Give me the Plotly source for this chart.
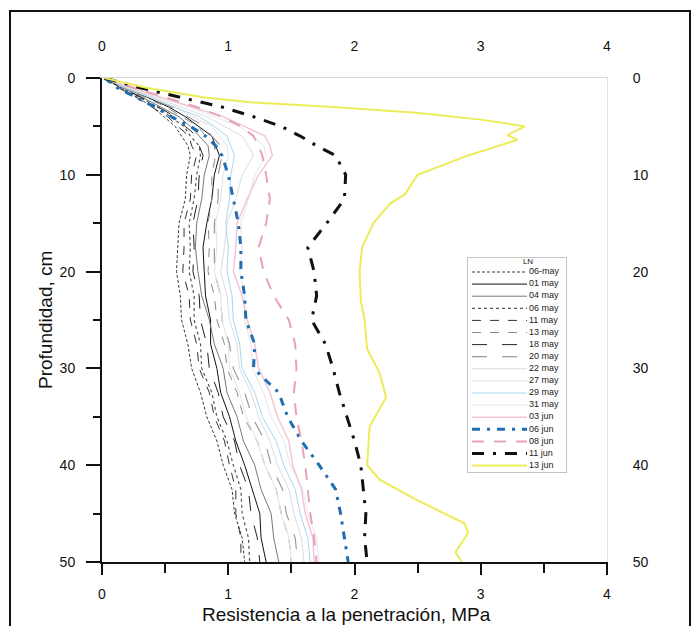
import plotly.graph_objects as go

# ---------------- data ----------------
depth = [0, 1, 2, 3, 4, 5, 6, 7, 8, 10, 12.5, 15, 17.5, 20, 22.5, 25, 27.5, 30,
         32.5, 35, 37.5, 40, 42.5, 45, 47.5, 50]
depth_13jun = [0, 1, 2, 2.5, 3, 3.6, 4.3, 5, 5.9, 6.4, 8, 10, 12, 13, 15, 17.5, 20,
               23, 25, 28, 30.5, 33, 36, 40, 41.5, 43.5, 46, 47, 49, 50]

names = ["06-may", "01 may", "04 may", "06 may", "11 may", "13 may", "18 may", "20 may",
         "22 may", "27 may", "29 may", "31 may", "03 jun", "06 jun", "08 jun", "11 jun", "13 jun"]

may06a = [0.02, 0.14, 0.28, 0.40, 0.49, 0.58, 0.63, 0.68, 0.70, 0.67, 0.66, 0.61, 0.60, 0.59,
          0.62, 0.63, 0.68, 0.71, 0.78, 0.83, 0.91, 0.96, 1.03, 1.05, 1.11, 1.13]
may01 = [0.02, 0.18, 0.36, 0.53, 0.66, 0.77, 0.87, 0.90, 0.93, 0.89, 0.87, 0.83, 0.80, 0.81,
         0.82, 0.86, 0.86, 0.91, 0.94, 1.01, 1.06, 1.13, 1.19, 1.25, 1.26, 1.30]
may04 = [0.02, 0.16, 0.32, 0.46, 0.61, 0.70, 0.77, 0.84, 0.85, 0.81, 0.79, 0.75, 0.74, 0.76,
         0.79, 0.85, 0.89, 0.96, 0.99, 1.07, 1.12, 1.21, 1.26, 1.34, 1.36, 1.40]
may06b = [0.02, 0.15, 0.30, 0.44, 0.54, 0.65, 0.70, 0.77, 0.78, 0.75, 0.73, 0.69, 0.70, 0.69,
          0.73, 0.73, 0.78, 0.79, 0.87, 0.91, 0.99, 1.04, 1.10, 1.11, 1.16, 1.17]
may11 = [0.02, 0.13, 0.27, 0.39, 0.52, 0.60, 0.69, 0.71, 0.75, 0.71, 0.70, 0.65, 0.65, 0.64,
         0.69, 0.70, 0.75, 0.77, 0.85, 0.89, 0.97, 1.01, 1.06, 1.06, 1.10, 1.10]
may13 = [0.02, 0.17, 0.34, 0.51, 0.63, 0.76, 0.82, 0.89, 0.90, 0.87, 0.87, 0.84, 0.85, 0.84,
         0.89, 0.91, 0.97, 0.99, 1.07, 1.12, 1.23, 1.29, 1.38, 1.42, 1.48, 1.50]
may18 = [0.02, 0.15, 0.31, 0.44, 0.58, 0.66, 0.75, 0.77, 0.80, 0.77, 0.76, 0.72, 0.73, 0.72,
         0.77, 0.78, 0.83, 0.85, 0.92, 0.96, 1.05, 1.09, 1.16, 1.18, 1.23, 1.25]
may20 = [0.02, 0.19, 0.37, 0.55, 0.68, 0.81, 0.87, 0.94, 0.95, 0.92, 0.92, 0.89, 0.89, 0.89,
         0.94, 0.95, 1.01, 1.04, 1.13, 1.19, 1.29, 1.34, 1.43, 1.46, 1.53, 1.55]
may22 = [0.02, 0.20, 0.42, 0.62, 0.83, 0.97, 1.11, 1.16, 1.20, 1.11, 1.06, 0.99, 0.97, 0.94,
         0.99, 1.01, 1.07, 1.09, 1.18, 1.24, 1.33, 1.39, 1.48, 1.52, 1.58, 1.60]
may27 = [0.02, 0.18, 0.38, 0.58, 0.72, 0.87, 0.93, 0.99, 1.00, 0.96, 0.94, 0.90, 0.91, 0.89,
         0.94, 0.95, 1.00, 1.01, 1.09, 1.14, 1.23, 1.29, 1.38, 1.42, 1.48, 1.50]
may29 = [0.02, 0.19, 0.39, 0.57, 0.77, 0.89, 0.99, 1.02, 1.05, 1.02, 1.01, 0.98, 1.00, 0.99,
         1.03, 1.04, 1.09, 1.11, 1.21, 1.27, 1.38, 1.44, 1.53, 1.57, 1.63, 1.65]
may31 = [0.02, 0.22, 0.45, 0.69, 0.89, 1.09, 1.19, 1.28, 1.30, 1.21, 1.16, 1.10, 1.11, 1.09,
         1.13, 1.13, 1.18, 1.19, 1.28, 1.34, 1.44, 1.49, 1.59, 1.63, 1.70, 1.72]
jun03 = [0.02, 0.23, 0.47, 0.71, 0.96, 1.13, 1.29, 1.33, 1.35, 1.24, 1.15, 1.07, 1.06, 1.04,
         1.11, 1.15, 1.21, 1.24, 1.33, 1.39, 1.48, 1.51, 1.58, 1.61, 1.67, 1.68]
jun06 = [0.02, 0.12, 0.27, 0.42, 0.55, 0.70, 0.82, 0.90, 0.95, 1.00, 1.04, 1.08, 1.10, 1.10,
         1.13, 1.14, 1.21, 1.20, 1.40, 1.47, 1.58, 1.72, 1.85, 1.89, 1.92, 1.95]
jun08 = [0.02, 0.25, 0.50, 0.75, 0.95, 1.10, 1.20, 1.24, 1.27, 1.30, 1.33, 1.30, 1.24, 1.28,
         1.36, 1.48, 1.53, 1.54, 1.52, 1.54, 1.58, 1.61, 1.63, 1.65, 1.68, 1.70]
jun11 = [0.02, 0.30, 0.62, 0.95, 1.20, 1.42, 1.57, 1.70, 1.85, 1.93, 1.92, 1.78, 1.63, 1.68,
         1.70, 1.66, 1.77, 1.83, 1.88, 1.94, 2.00, 2.05, 2.07, 2.09, 2.08, 2.10]
jun13 = [0.02, 0.35, 0.80, 1.17, 1.83, 2.49, 3.00, 3.35, 3.21, 3.29, 2.90, 2.50, 2.40, 2.28,
         2.15, 2.06, 2.04, 2.05, 2.08, 2.10, 2.20, 2.25, 2.12, 2.10, 2.20, 2.48, 2.87, 2.90,
         2.80, 2.85]

values = [may06a, may01, may04, may06b, may11, may13, may18, may20, may22, may27,
          may29, may31, jun03, jun06, jun08, jun11, jun13]
depths = [depth] * 16 + [depth_13jun]

x_ticks = [0, 1, 2, 3, 4]
y_ticks = [0, 10, 20, 30, 40, 50]

# ---------------- styles ----------------
styles = [
    dict(color="#3a3a3a", width=1, dash="3px,2px"),
    dict(color="#111111", width=1, dash="solid"),
    dict(color="#777777", width=1, dash="solid"),
    dict(color="#555555", width=1.2, dash="dot"),
    dict(color="#333333", width=1, dash="dash"),
    dict(color="#8a8a8a", width=1, dash="dash"),
    dict(color="#222222", width=1, dash="longdash"),
    dict(color="#9a9a9a", width=1.2, dash="longdash"),
    dict(color="#dcdcdc", width=1, dash="solid"),
    dict(color="#e2e2e2", width=1, dash="solid"),
    dict(color="#a9d6ee", width=1, dash="solid"),
    dict(color="#e6e6e6", width=1, dash="solid"),
    dict(color="#f2c6d6", width=1.5, dash="solid"),
    dict(color="#1f6db3", width=3, dash="8px,7px,3px,7px"),
    dict(color="#e8a2b8", width=2, dash="12px,10px"),
    dict(color="#111111", width=3, dash="12px,9px,3px,9px"),
    dict(color="#ecec58", width=2, dash="solid"),
]

FONT = "Liberation Sans, Arial, sans-serif"

fig = go.Figure()

for nm, xv, dv, st in zip(names, values, depths, styles):
    fig.add_trace(go.Scatter(x=xv, y=dv, mode="lines", name=nm, line=st,
                             showlegend=False, xaxis="x", yaxis="y"))

# invisible traces to anchor top/right axes
fig.add_trace(go.Scatter(x=[None], y=[None], xaxis="x2", yaxis="y", showlegend=False))
fig.add_trace(go.Scatter(x=[None], y=[None], xaxis="x", yaxis="y2", showlegend=False))

# ---------------- custom legend (own small axes) ----------------
row0, rowstep = 14, 12.1
for i, (nm, st) in enumerate(zip(names, styles)):
    yy = row0 + rowstep * i
    fig.add_trace(go.Scatter(x=[4, 59], y=[yy, yy], mode="lines", line=st,
                             xaxis="x3", yaxis="y3", showlegend=False, hoverinfo="skip"))
    fig.add_trace(go.Scatter(x=[61], y=[yy], mode="text", text=[nm],
                             textposition="middle right",
                             textfont=dict(family=FONT, size=9, color="#222222"),
                             xaxis="x3", yaxis="y3", showlegend=False, hoverinfo="skip"))
fig.add_trace(go.Scatter(x=[60], y=[4], mode="text", text=["LN"], textposition="middle center",
                         textfont=dict(family=FONT, size=8, color="#222222"),
                         xaxis="x3", yaxis="y3", showlegend=False, hoverinfo="skip"))

W, H = 697, 626
L, R, T, B = 102, 90, 78, 64
pw, ph = W - L - R, H - T - B

def px_x(p):
    return (p - L) / pw

def px_y(p):
    return (H - B - p) / ph

TICKFONT = dict(family=FONT, size=14, color="#111111")

fig.update_layout(
    width=W, height=H,
    margin=dict(l=L, r=R, t=T, b=B, pad=0),
    paper_bgcolor="white", plot_bgcolor="white",
    font=dict(family=FONT, size=14, color="#111111"),
    xaxis=dict(range=[0, 4], tickvals=x_ticks, side="bottom",
               showline=True, linecolor="#111111", linewidth=2,
               ticks="outside", ticklen=11, tickwidth=1.5, tickcolor="#111111",
               minor=dict(dtick=0.5, ticks="outside", ticklen=9, tickwidth=1.5,
                          tickcolor="#111111", showgrid=False),
               ticklabelstandoff=7, showgrid=False, zeroline=False,
               tickfont=TICKFONT),
    xaxis2=dict(range=[0, 4], tickvals=x_ticks, side="top", overlaying="x", anchor="y",
                showline=True, linecolor="#d8d8d8", linewidth=1, ticks="",
                ticklabelstandoff=20, showgrid=False, zeroline=False,
                tickfont=TICKFONT),
    yaxis=dict(range=[50, 0], tickvals=y_ticks, side="left",
               showline=True, linecolor="#111111", linewidth=2,
               ticks="outside", ticklen=14, tickwidth=1.5, tickcolor="#111111",
               minor=dict(dtick=5, ticks="outside", ticklen=7, tickwidth=1.5,
                          tickcolor="#111111", showgrid=False),
               ticklabelstandoff=8, showgrid=False, zeroline=False,
               tickfont=TICKFONT),
    yaxis2=dict(range=[50, 0], tickvals=y_ticks, side="right", overlaying="y", anchor="x",
                showline=True, linecolor="#e4e4e4", linewidth=1, ticks="",
                ticklabelstandoff=22, showgrid=False, zeroline=False,
                tickfont=TICKFONT),
    xaxis3=dict(domain=[px_x(468), px_x(566)], range=[0, 98], anchor="y3",
                showline=True, mirror=True, linecolor="#c4c4c4", linewidth=1,
                showticklabels=False, ticks="", showgrid=False, zeroline=False,
                fixedrange=True),
    yaxis3=dict(domain=[px_y(472), px_y(258)], range=[214, 0], anchor="x3",
                showline=True, mirror=True, linecolor="#c4c4c4", linewidth=1,
                showticklabels=False, ticks="", showgrid=False, zeroline=False,
                fixedrange=True),
    annotations=[
        dict(text="Profundidad, cm", xref="paper", yref="paper",
             x=px_x(45), y=0.5, textangle=-90, showarrow=False,
             font=dict(family=FONT, size=19, color="#111111"),
             xanchor="center", yanchor="middle"),
        dict(text="Resistencia a la penetración, MPa", xref="paper", yref="paper",
             x=px_x(346), y=px_y(614), showarrow=False,
             font=dict(family=FONT, size=19, color="#111111"),
             xanchor="center", yanchor="middle"),
    ],
    shapes=[
        dict(type="rect", xref="paper", yref="paper",
             x0=px_x(10), x1=px_x(690), y0=px_y(660), y1=px_y(11),
             line=dict(color="#111111", width=2), fillcolor="rgba(0,0,0,0)",
             layer="above"),
    ],
)

fig.write_html("out.html")
